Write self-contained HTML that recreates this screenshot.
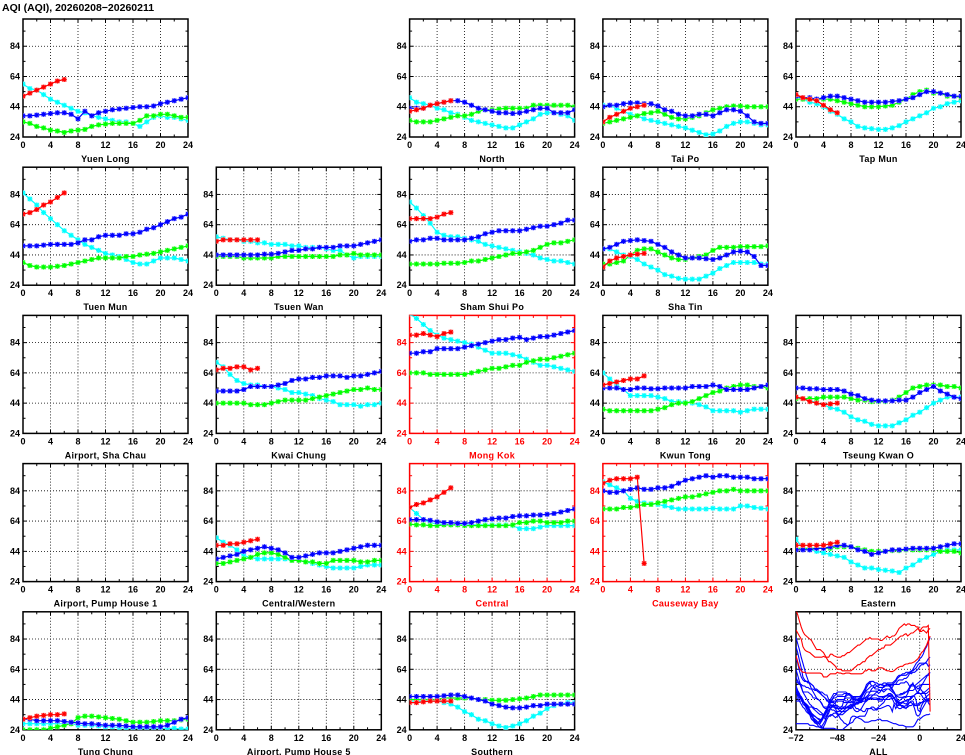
<!DOCTYPE html>
<html><head><meta charset="utf-8"><style>
html,body{margin:0;padding:0;background:#fff;}
svg{display:block;font-family:"Liberation Sans",sans-serif;}
.tk{font-size:9px;font-weight:bold;}
.lb{font-size:9px;font-weight:bold;letter-spacing:0.3px;}
</style></head><body>
<svg id="chart" width="965" height="755" viewBox="0 0 965 755">
<text x="2" y="11" font-size="10.5" font-weight="bold">AQI (AQI), 20260208−20260211</text>
</svg>
<script>
const yTicks = [24, 44, 64, 84];
const yMinor = [34, 54, 74, 94];
const xTicks = [0, 4, 8, 12, 16, 20, 24];
const allXTicks = [-72, -48, -24, 0, 24];
const Y_MIN = 24, Y_MAX = 102;

const yuenLongRed = [51,53,55,57,59,61,62];
const yuenLongCyan = [59,56,55,52,49,47,45,43,41,40,38,37,36,35,34,34,33,31,34,37,38,37,37,36,35];
const yuenLongBlue = [38,38,38.5,39,39.5,40,40,39,36,41,38,40,41,42,42.5,43,43.5,44,44,44.5,46,47,48,49,50];
const yuenLongGreen = [34,33,31,30,28.5,28,27,28,28.5,29,31,32,32.5,33,33,33,33,35,38,38,39,39,38,37,37];

const northRed = [41,42,43,45,46,47,48];
const northCyan = [50,47,46,45,43,42,40,39,37,35,34,33,32,31,30,30,32,34,36,39,40,40,39,38,35];
const northBlue = [43,43,43,45,46,47,48,48,47,45,43,42,41,40,40,39.5,40,41,42,43,43,40,40,40,42];
const northGreen = [35,34,34,34,35,36,37,38,38,39,41,42,42,42.5,43,43,43,43,45,45,45,45,45,45,44];

const taiPoRed = [34,37,39,41,43,44,45];
const taiPoCyan = [45,45,43,41,39,38,36,35,34,33,32,31,30,28.5,27,25.5,26,28,31,33,34,34,33,32,32];
const taiPoBlue = [44,45,45,46,46.5,46.5,46,46,44.5,42,41,39,38,38,39,39,38,40,42,42,41,38,34,33,33];
const taiPoGreen = [33,34,35,36,37,38,39.5,40,41,39,37,36,36,37,38,40,42,43,44,44.5,44.5,44,44,44,44];

const tapMunRed = [52,50,49,48,45,42,40];
const tapMunCyan = [51,49,47,46,44,41,39,36,34,31,30,29.5,29,29,30,31.5,34,36,38,40,43,44,46,47,48];
const tapMunBlue = [51,50,50,49,50,51,51,50,49,48,47,47,47,47,47.5,48,49,50,52,54,54,53,52,51,51];
const tapMunGreen = [49,49,49,49,49,49,48,47,46,45,44,44,44,44.5,45,47,49,52,54,55,53,53,51,51,50];

const tuenMunRed = [71,72,74,77,79,82,85];
const tuenMunCyan = [85,81,77,72,68,64,60,57,54,51,49,47,45,44,43,41,39,38,38,40,42,42,42,41,40];
const tuenMunBlue = [50,50,50,50.5,51,51,51,51,52,54,54,56,57,57,57,58,58,59,61,62,64,66,68,69,71];
const tuenMunGreen = [39,37,36,36,36,36.5,37,38,39,40,41,42,42,42,42,43,43,44,44.5,45,46,47,48,49,50];

const tsuenWanRed = [53,54,54,54,54,54,54];
const tsuenWanCyan = [56,55,54,54,53,53,52,52,51,51,51,50,50,49,49,49,48,47,47,44,42,43,43,43,43];
const tsuenWanBlue = [44,44,44,44,44,44,44,44.5,44.5,45,46,47,47,48,48,49,49,49,50,50,50,51,52,53,54];
const tsuenWanGreen = [43,43,43,43,42,42,42,42,42,43,43,43,43,43,43,43,43,43,44,44,45,44,44,44,44];

const shamShuiPoRed = [68,68,68,68,69,71,72];
const shamShuiPoCyan = [79,75,70,65,59,57,56,56,55,54,53,51,50,49,48,47,46,45,44,42,41,40,40,39,38];
const shamShuiPoBlue = [53,54,54,55,55,54,54,54,54,55,56,58,59,60,60,60,60,61,62,63,63,64,65,67,67];
const shamShuiPoGreen = [38,38,38,38,38,38.5,38.5,38.5,39,40,40,41,42,43,44,45,45,46,47,49,51,52,52,53,54];

const shaTinRed = [36,40,42,43,44,44.5,45];
const shaTinCyan = [48,48,46,44,43,41,38,36,34,31,30,28.5,28,28,28,30,32,35,37,39,39,39,39,38,38];
const shaTinBlue = [48,49,51,53,53.5,54,53.5,53,51,49,46,44,42,42,42,41.5,41,42,44,46,46.5,46,43,37,37];
const shaTinGreen = [38,38,39,40,44,47,48,48,46,44,42,41,41,42,43,44,47,49,49,49,49.5,49.5,49.5,49.5,50];

const kwaiChungRed = [66,67,67,68,68,66,67];
const kwaiChungCyan = [71,68,63,59,57,56,56,55,55,54,53,51,51,50,49,47,46,45,43,43,43,42,43,43,44];
const kwaiChungBlue = [52,52,52,52,53,55,55,55,55,56,57,59,60,60,61,61,62,62,62,61,62,62,63,64,65];
const kwaiChungGreen = [44,44,44,44,44,43,43,43,44,45,46,46,46,46,47,48,49,50,51,52,53,53,54,53,53];

const mongKokRed = [89,89,90,89,88,90,91];
const mongKokCyan = [103,100,96,92,89,87,86,85,84,83,81,79,77,77,77,76,75,73,71,69,69,68,67,66,65];
const mongKokBlue = [77,77,78,78,80,80,80,80,81,82,83,84,85,86,86,87,87.5,86,87,88,88,89,90,91,92];
const mongKokGreen = [64,64,64,63,63,63,63,63,63,64,65,66,67,67,68,69,69,71,72,73,73,74,75,76,77];

const kwunTongRed = [56,57,58,59,60,60,62];
const kwunTongCyan = [64,60,56,53,49,49,49,49,48,47,45,45,44.5,44,43,41.5,39,39,39,39,38,39,40,40,40];
const kwunTongBlue = [54,54,54,53,53,54,54,53.5,53.5,54,54,54,54,55,55,55,56,55,53,53,53,53,54,55,56];
const kwunTongGreen = [40,39,39,39,39,39,39,39,40,41,43,44,44,45,47,49,51,52,54,55,56,56,55,55,54];

const tseungKwanORed = [48,47,45,44,43,43.5,44];
const tseungKwanOCyan = [48,47,46,44,43,41,40,38,35,33,32,30,29,29,29,31,33,36,38,41,44,46,48,48,48];
const tseungKwanOBlue = [54,54,53.5,53.5,53,53,53,52,50,49,47,46,45.5,45.5,45.5,46,46,48,51,53,55,52,50,48,47];
const tseungKwanOGreen = [47,47,47,47,48,48,48,48,47,46,46,45,45,45,46,48,51,54,55,56,56,56,55,55,54];

const centralWesternRed = [48,48,49,49,50,51,52];
const centralWesternCyan = [53,50,48,45,41,40,39,39,39,39,39,38,38,37,36,35,34,33,33,33,33,34,35,35,35];
const centralWesternBlue = [39,40,41,42,44,45,46,47,46,45,43,40,40,41,42,43,43,43,44,45,46,47,48,48,48];
const centralWesternGreen = [36,36,37,38,39,40,42,43,43,42,40,38,38,37,37,36,36,38,38,38,38,37,37,38,38];

const centralRed = [73,75,76,78,80,83,86];
const centralCyan = [73,69,65,63,62,62,61.5,61.5,61.5,61.5,61.5,61.5,61.5,61.5,61.5,61,59,59,59,60,61,61,61,61,61];
const centralBlue = [65,65,65,64.5,63.5,63,63,62.5,62.5,63,64,65,65.5,66,66,67,67.5,67.5,68,68,68.5,69,70,71,72];
const centralGreen = [62,61.5,61.5,61,61,61.5,61.5,61.5,61,61,61,61,61,61,61,61.5,63,63,64,64,63,63,63,64,64];

const causewayBayRed = [89,91,92,92,92,93,36];
const causewayBayCyan = [90,88,86,84,79,77,76,75.5,75,74,73,72,72,72,72,72,72.5,72,72,72,74,74,73,72.5,72];
const causewayBayBlue = [84,83,83,84,85,86,85,85,86,86,87,89,91,92,93,94,93,94,94,93,93,93,92,92,92];
const causewayBayGreen = [72,72,72,73,73,74,75,75,76,77,78,79,80,80,81,82,83,84,84,85,84,84,84,84,84];

const easternRed = [48,48,48,48,48,49,50];
const easternCyan = [52,46,45,44,43,42,41,40,37,35,33,33,32,31.5,31,30,33,35,38,40,42,44,45,45,45];
const easternBlue = [45,45,45,46,46,47,48,48,47,45,44,42,43,44,45,45,45.5,46,46,46,46,47,48,49,49];
const easternGreen = [46,46,46,46,46,46,47,47,47,46,45,44,44,44,44.5,44.5,45,45,45,45,45,44,44,44,43];

const tungChungRed = [31,32,33,33.5,34,34,34.5];
const tungChungCyan = [28,28,28,28,28,28,28,28,27,27,27,26.5,26,26,25.5,25,25,25,25,25,25,25,25,24.5,24.5];
const tungChungBlue = [31,31,30,30,30,30,29.5,29,28.5,28,28,27.5,27,27,27,26.5,26,26,26,26,26,27,29,31,32];
const tungChungGreen = [24,24,24,24,25,26,27,28,32,33,33,32.5,32,31.5,31,30,29,29,29,29.5,30,30,30,30.5,31];

const southernRed = [42,42,42.5,43,43,43,43];
const southernCyan = [43,43,43,43,43,42,41,39,36,34,31,30,28,26.5,25.5,26.5,28,30,33,35,38,40,41,42,42];
const southernBlue = [46,46,46,46,46,46.5,47,47,46,45,44,43,41,40,39,38.5,38.5,39,40,40,41,41,41,41,41];
const southernGreen = [44,44,44,44,44,45,45,45,45,45,44,44,43.5,43.5,43.5,44,44.5,45,46,47,47,47,47,47,47];

const stations = [
 {name:"Yuen Long",r:0,c:0,red:false,s:[yuenLongCyan,yuenLongGreen,yuenLongBlue,yuenLongRed]},
 {name:"North",r:0,c:2,red:false,s:[northCyan,northGreen,northBlue,northRed]},
 {name:"Tai Po",r:0,c:3,red:false,s:[taiPoCyan,taiPoGreen,taiPoBlue,taiPoRed]},
 {name:"Tap Mun",r:0,c:4,red:false,s:[tapMunCyan,tapMunGreen,tapMunBlue,tapMunRed]},
 {name:"Tuen Mun",r:1,c:0,red:false,s:[tuenMunCyan,tuenMunGreen,tuenMunBlue,tuenMunRed]},
 {name:"Tsuen Wan",r:1,c:1,red:false,s:[tsuenWanCyan,tsuenWanGreen,tsuenWanBlue,tsuenWanRed]},
 {name:"Sham Shui Po",r:1,c:2,red:false,s:[shamShuiPoCyan,shamShuiPoGreen,shamShuiPoBlue,shamShuiPoRed]},
 {name:"Sha Tin",r:1,c:3,red:false,s:[shaTinCyan,shaTinGreen,shaTinBlue,shaTinRed]},
 {name:"Airport, Sha Chau",r:2,c:0,red:false,s:null},
 {name:"Kwai Chung",r:2,c:1,red:false,s:[kwaiChungCyan,kwaiChungGreen,kwaiChungBlue,kwaiChungRed]},
 {name:"Mong Kok",r:2,c:2,red:true,s:[mongKokCyan,mongKokGreen,mongKokBlue,mongKokRed]},
 {name:"Kwun Tong",r:2,c:3,red:false,s:[kwunTongCyan,kwunTongGreen,kwunTongBlue,kwunTongRed]},
 {name:"Tseung Kwan O",r:2,c:4,red:false,s:[tseungKwanOCyan,tseungKwanOGreen,tseungKwanOBlue,tseungKwanORed]},
 {name:"Airport, Pump House 1",r:3,c:0,red:false,s:null},
 {name:"Central/Western",r:3,c:1,red:false,s:[centralWesternCyan,centralWesternGreen,centralWesternBlue,centralWesternRed]},
 {name:"Central",r:3,c:2,red:true,s:[centralCyan,centralGreen,centralBlue,centralRed]},
 {name:"Causeway Bay",r:3,c:3,red:true,s:[causewayBayCyan,causewayBayGreen,causewayBayBlue,causewayBayRed]},
 {name:"Eastern",r:3,c:4,red:false,s:[easternCyan,easternGreen,easternBlue,easternRed]},
 {name:"Tung Chung",r:4,c:0,red:false,s:[tungChungCyan,tungChungGreen,tungChungBlue,tungChungRed]},
 {name:"Airport, Pump House 5",r:4,c:1,red:false,s:null},
 {name:"Southern",r:4,c:2,red:false,s:[southernCyan,southernGreen,southernBlue,southernRed]}
];
const seriesColors = ["#00ffff","#00ff00","#0000ff","#ff0000"];
const haloColors = ["#bbffff","#bbffbb","#bbbbff","#ffbbbb"];
const seriesNames = ["day-minus-3","day-minus-2","day-minus-1","today"];

const NS = "http://www.w3.org/2000/svg";
const svg = document.getElementById("chart");
const COLX = [23, 216.3, 409.6, 602.9, 796];
const W = 165, H = 118, ROW0 = 19, ROWSTEP = 148.2;
function mk(tag, attrs, parent){const e=document.createElementNS(NS,tag);for(const k in attrs)e.setAttribute(k,attrs[k]);(parent||svg).appendChild(e);return e;}
function slug(s){return s.toLowerCase().replace(/[^a-z0-9]+/g,'-').replace(/^-|-$/g,'');}

function drawFrame(g, x0, y0, sx, sy, xt, xtVals, col, minorX){
  xtVals.slice(1,-1).forEach(v=>{const x=sx(v);const l=mk('line',{x1:x,x2:x,y1:y0,y2:y0+H,stroke:'#000','stroke-width':0.8,'stroke-dasharray':'1,2'},g);});
  yTicks.slice(1).forEach(v=>{const y=sy(v);const l=mk('line',{x1:x0,x2:x0+W,y1:y,y2:y,stroke:'#000','stroke-width':0.8,'stroke-dasharray':'1,2'},g);});
  yTicks.concat(yMinor).forEach(v=>{const y=sy(v);const len=yTicks.includes(v)?4:2.5;mk('line',{x1:x0,x2:x0+len,y1:y,y2:y,stroke:col,'stroke-width':1},g);mk('line',{x1:x0+W,x2:x0+W-len,y1:y,y2:y,stroke:col,'stroke-width':1},g);});
  minorX.forEach(v=>{const x=sx(v);const len=xtVals.includes(v)?4:2.5;mk('line',{x1:x,x2:x,y1:y0,y2:y0+len,stroke:col,'stroke-width':1},g);mk('line',{x1:x,x2:x,y1:y0+H,y2:y0+H-len,stroke:col,'stroke-width':1},g);});
  yTicks.forEach(v=>{const t=mk('text',{x:x0-3,y:sy(v)+3,'text-anchor':'end',fill:col,class:'tk'},g);t.textContent=v;});
  xtVals.forEach((v,i)=>{const t=mk('text',{x:sx(v),y:y0+H+11,'text-anchor':'middle',fill:col,class:'tk'},g);t.textContent=xt[i];});
  const f=mk('rect',{x:x0,y:y0,width:W,height:H,fill:'none',stroke:col,'stroke-width':1.5},g);
  
  
}

stations.forEach(st=>{
  const x0=COLX[st.c], y0=ROW0+st.r*ROWSTEP;
  const sx=v=>x0+v/24*W;
  const sy=v=>y0+H-(v-Y_MIN)/(Y_MAX-Y_MIN)*H;
  const col=st.red?'#ff0000':'#000';
  const g=mk('g',{});
  
  
  const minor=[];for(let h=0;h<=24;h+=2)minor.push(h);
  drawFrame(g,x0,y0,sx,sy,xTicks.map(String),xTicks,col,minor);
  const lb=mk('text',{x:x0+W/2,y:y0+H+25,'text-anchor':'middle',fill:col,class:'lb'},g);
  lb.textContent=st.name;
  
  
  if(!st.s)return;
  const cp='clip-'+slug(st.name);
  const cl=mk('clipPath',{id:cp},g);mk('rect',{x:x0,y:y0,width:W,height:H},cl);
  const dg=mk('g',{'clip-path':'url(#'+cp+')'},g);
  st.s.forEach((arr,si)=>{
    const sg=mk('g',{},dg);
    
    
    const pts=arr.map((v,h)=>sx(h).toFixed(1)+','+sy(v).toFixed(1)).join(' ');
    arr.forEach((v,h)=>{mk('rect',{x:sx(h)-2.5,y:sy(v)-2.5,width:5,height:5,fill:haloColors[si]},sg);});
    const pl=mk('polyline',{points:pts,fill:'none',stroke:seriesColors[si],'stroke-width':1.2},sg);
    
    
    arr.forEach((v,h)=>{const x=sx(h),y=sy(v),d=2.5,e=1.9;
      const m=mk('path',{d:`M${x-d},${y}H${x+d}M${x},${y-d}V${y+d}M${x-e},${y-e}L${x+e},${y+e}M${x-e},${y+e}L${x+e},${y-e}`,stroke:seriesColors[si],'stroke-width':1.1},sg);
      
      
    });
  });
});

(function(){
  const x0=COLX[4], y0=ROW0+4*ROWSTEP;
  const sx=v=>x0+(v+72)/96*W;
  const sy=v=>y0+H-(v-Y_MIN)/(Y_MAX-Y_MIN)*H;
  const g=mk('g',{});
  
  
  const minor=[];for(let h=-72;h<=24;h+=8)minor.push(h);
  drawFrame(g,x0,y0,sx,sy,allXTicks.map(v=>v<0?'−'+(-v):String(v)),allXTicks,'#000',minor);
  const lb=mk('text',{x:x0+W/2,y:y0+H+25,'text-anchor':'middle',class:'lb'},g);
  lb.textContent='ALL';
  
  
  const cl=mk('clipPath',{id:'clip-all'},g);
  mk('rect',{x:x0,y:y0,width:W,height:H},cl);
  const dg=mk('g',{'clip-path':'url(#clip-all)'},g);
  const order=stations.filter(s=>s.s&&!s.red).concat(stations.filter(s=>s.s&&s.red));
  order.forEach(st=>{
    const pts=[];const offs=[-72,-48,-24,0];
    st.s.forEach((arr,si)=>arr.forEach((v,h)=>{if(si<3&&h===24)return;pts.push(sx(offs[si]+h).toFixed(1)+','+sy(v).toFixed(1));}));
    const pl=mk('polyline',{points:pts.join(' '),fill:'none',stroke:st.red?'#ff0000':'#0000ff','stroke-width':1.1},dg);
    
    
  });
})();
</script>
</body></html>
